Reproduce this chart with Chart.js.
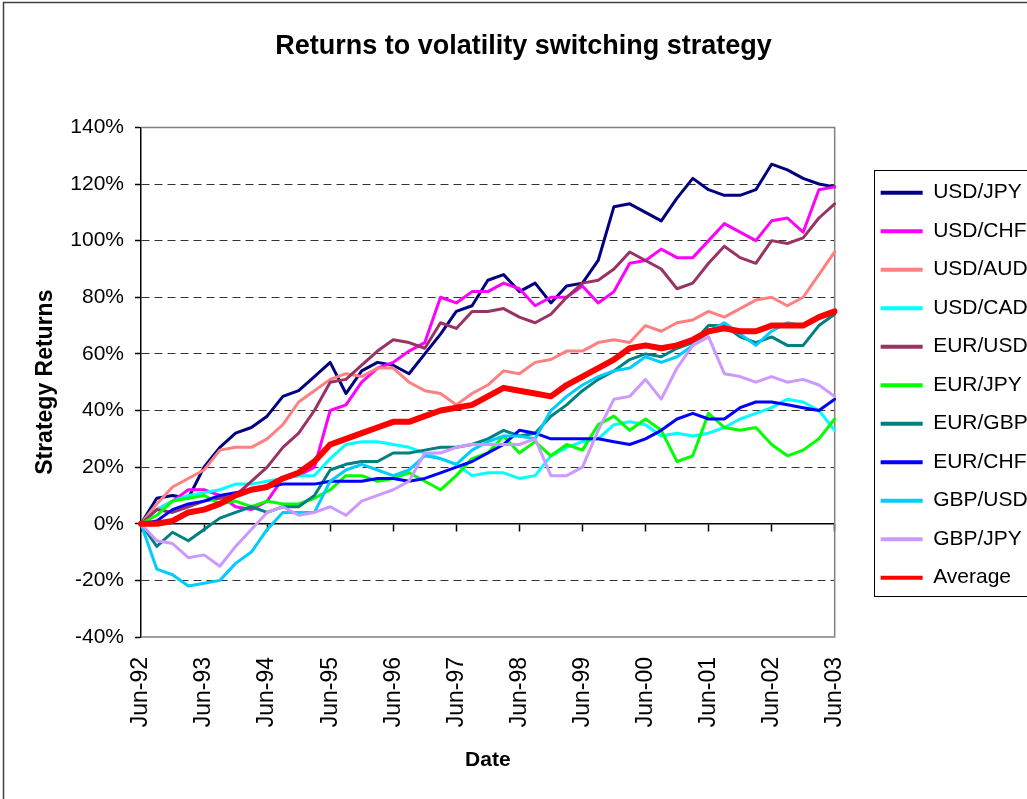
<!DOCTYPE html>
<html>
<head>
<meta charset="utf-8">
<title>Returns to volatility switching strategy</title>
<script src="https://cdn.jsdelivr.net/npm/chart.js@4.4.0/dist/chart.umd.min.js"></script>
<style>
  html, body { margin: 0; padding: 0; background: #fff; overflow: hidden; }
  #wrap { position: relative; width: 1033px; height: 799px; }
</style>
</head>
<body>
<div id="wrap"><canvas id="chart"></canvas></div>
<script>
// quarterly points, Jun-92 .. Jun-03
const categories = [
  'Jun-92','Sep-92','Dec-92','Mar-93','Jun-93','Sep-93','Dec-93','Mar-94',
  'Jun-94','Sep-94','Dec-94','Mar-95','Jun-95','Sep-95','Dec-95','Mar-96',
  'Jun-96','Sep-96','Dec-96','Mar-97','Jun-97','Sep-97','Dec-97','Mar-98',
  'Jun-98','Sep-98','Dec-98','Mar-99','Jun-99','Sep-99','Dec-99','Mar-00',
  'Jun-00','Sep-00','Dec-00','Mar-01','Jun-01','Sep-01','Dec-01','Mar-02',
  'Jun-02','Sep-02','Dec-02','Mar-03','Jun-03'
];

// strategy returns in %
const usdJpy = [0, 9, 10, 9, 20, 27, 32, 34, 38, 45, 47, 52, 57, 46, 54, 57, 56, 53, 60, 67, 75, 77, 86, 88, 82, 85, 78, 84, 85, 93, 112, 113, 110, 107, 115, 122, 118, 116, 116, 118, 127, 125, 122, 120, 119];
const usdChf = [0, 5, 8, 12, 12, 10, 6, 5, 8, 16, 17, 20, 40, 42, 50, 55, 57, 61, 64, 80, 78, 82, 82, 85, 83, 77, 80, 80, 84, 78, 82, 92, 93, 97, 94, 94, 100, 106, 103, 100, 107, 108, 103, 118, 119];
const usdAud = [0, 7, 13, 16, 19, 26, 27, 27, 30, 35, 43, 47, 51, 53, 52, 55, 55, 50, 47, 46, 42, 46, 49, 54, 53, 57, 58, 61, 61, 64, 65, 64, 70, 68, 71, 72, 75, 73, 76, 79, 80, 77, 80, 88, 96];
const usdCad = [0, 5, 8, 10, 11, 12, 14, 14, 15, 16, 17, 17, 23, 28, 29, 29, 28, 27, 25, 23, 21, 17, 18, 18, 16, 17, 24, 27, 29, 30, 35, 36, 35, 31, 32, 31, 32, 34, 37, 39, 41, 44, 43, 40, 33];
const eurUsd = [0, 5, 4, 6, 8, 9, 10, 15, 20, 27, 32, 40, 50, 51, 56, 61, 65, 64, 62, 71, 69, 75, 75, 76, 73, 71, 74, 80, 85, 86, 90, 96, 93, 90, 83, 85, 92, 98, 94, 92, 100, 99, 101, 108, 113];
const eurJpy = [0, 3, 8, 9, 10, 7, 8, 6, 8, 7, 7, 9, 12, 17, 17, 15, 16, 18, 15, 12, 17, 23, 25, 31, 25, 29, 24, 28, 26, 35, 38, 33, 37, 33, 22, 24, 39, 34, 33, 34, 28, 24, 26, 30, 37];
const eurGbp = [0, -8, -3, -6, -2, 2, 4, 6, 4, 6, 6, 10, 19, 21, 22, 22, 25, 25, 26, 27, 27, 28, 30, 33, 31, 32, 38, 42, 47, 51, 54, 58, 60, 59, 62, 64, 70, 70, 66, 64, 66, 63, 63, 70, 74];
const eurChf = [0, 1, 5, 7, 8, 10, 11, 12, 13, 14, 14, 14, 15, 15, 15, 16, 16, 15, 16, 18, 20, 22, 25, 28, 33, 32, 30, 30, 30, 30, 29, 28, 30, 33, 37, 39, 37, 37, 41, 43, 43, 42, 41, 40, 44];
const gbpUsd = [0, -16, -18, -22, -21, -20, -14, -10, -2, 4, 4, 4, 15, 19, 21, 19, 17, 19, 24, 23, 21, 26, 29, 31, 31, 30, 40, 45, 49, 52, 54, 55, 59, 57, 59, 63, 68, 71, 67, 63, 68, 71, 70, 73, 75];
const gbpJpy = [0, -6, -7, -12, -11, -15, -8, -2, 4, 6, 3, 4, 6, 3, 8, 10, 12, 15, 25, 25, 27, 28, 28, 28, 28, 30, 17, 17, 20, 33, 44, 45, 51, 44, 55, 63, 66, 53, 52, 50, 52, 50, 51, 49, 45];
const average = [0, 0, 1, 4, 5, 7, 10, 12, 13, 16, 18, 22, 28, 30, 32, 34, 36, 36, 38, 40, 41, 42, 45, 48, 47, 46, 45, 49, 52, 55, 58, 62, 63, 62, 63, 65, 68, 69, 68, 68, 70, 70, 70, 73, 75];

const seriesNames = ['USD/JPY', 'USD/CHF', 'USD/AUD', 'USD/CAD', 'EUR/USD', 'EUR/JPY', 'EUR/GBP', 'EUR/CHF', 'GBP/USD', 'GBP/JPY', 'Average'];
const seriesData = [usdJpy, usdChf, usdAud, usdCad, eurUsd, eurJpy, eurGbp, eurChf, gbpUsd, gbpJpy, average];
const seriesColors = ['#000080', '#FF00FF', '#FF8080', '#00FFFF', '#993366', '#00FF00', '#008080', '#0000FF', '#00CCFF', '#CC99FF', '#FF0000'];

const isJune = i => categories[i] && categories[i].startsWith('Jun');

Chart.defaults.font.family = 'Arial, "Liberation Sans", sans-serif';
Chart.defaults.color = '#000';

// white page, outer frame, plot border, legend border
const framePlugin = {
  id: 'frame',
  beforeDraw(chart) {
    const ctx = chart.ctx;
    ctx.save();
    ctx.fillStyle = '#fff';
    ctx.fillRect(0, 0, chart.width, chart.height);
    ctx.strokeStyle = '#404040';
    ctx.lineWidth = 1.5;
    ctx.beginPath();
    ctx.moveTo(3.5, chart.height + 5);
    ctx.lineTo(3.5, 2.5);
    ctx.lineTo(chart.width + 5, 2.5);
    ctx.stroke();
    ctx.restore();
  },
  beforeDatasetsDraw(chart) {
    const {ctx, chartArea: a} = chart;
    ctx.save();
    ctx.strokeStyle = '#808080';
    ctx.lineWidth = 1.5;
    ctx.beginPath();
    ctx.moveTo(a.left, a.top);
    ctx.lineTo(a.right, a.top);
    ctx.lineTo(a.right, a.bottom);
    ctx.lineTo(a.left, a.bottom);
    ctx.stroke();
    ctx.restore();
  },
  afterDraw(chart) {
    const hb = chart.legend && chart.legend.legendHitBoxes;
    if (!hb || !hb.length) return;
    const ctx = chart.ctx;
    const first = hb[0], last = hb[hb.length - 1];
    const left = Math.round(first.left - 7) + 0.5;
    const top = Math.round(first.top + first.height / 2 - 23) + 0.5;
    const bottom = Math.round(last.top + last.height / 2 + 18) + 0.5;
    ctx.save();
    ctx.strokeStyle = '#000';
    ctx.lineWidth = 1;
    ctx.strokeRect(left, top, chart.width, bottom - top);
    ctx.restore();
  }
};

new Chart(document.getElementById('chart'), {
  type: 'line',
  data: {
    labels: categories,
    datasets: seriesNames.map((name, i) => ({
      label: name,
      data: seriesData[i],
      borderColor: seriesColors[i],
      backgroundColor: seriesColors[i],
      borderWidth: name === 'Average' ? 6 : 3,
      pointRadius: 0,
      tension: 0,
      borderJoinStyle: 'round',
      borderCapStyle: 'round',
      order: seriesNames.length - i
    }))
  },
  options: {
    responsive: true,
    maintainAspectRatio: false,
    devicePixelRatio: 1,
    animation: false,
    layout: { padding: { left: 14, right: 0, top: 0, bottom: 0 } },
    plugins: {
      title: {
        display: true,
        text: 'Returns to volatility switching strategy',
        color: '#000',
        font: { size: 27, weight: 'bold' },
        padding: { top: 30, bottom: 65 }
      },
      legend: {
        position: 'right',
        fullSize: false,
        align: 'center',
        title: { display: true, text: ' ', padding: 0, font: { size: 5 } },
        labels: {
          color: '#000',
          font: { size: 21 },
          boxWidth: 42,
          boxHeight: 4,
          padding: 17.5,
          generateLabels: chart => chart.data.datasets.map((d, i) => ({
            text: d.label,
            fillStyle: d.borderColor,
            strokeStyle: d.borderColor,
            lineWidth: 0,
            hidden: false,
            datasetIndex: i,
            fontColor: '#000'
          }))
        }
      },
      tooltip: { enabled: false }
    },
    scales: {
      x: {
        type: 'category',
        position: 'bottom',
        grid: { display: false, drawTicks: false },
        border: { display: false },
        ticks: {
          autoSkip: false,
          minRotation: 90,
          maxRotation: 90,
          padding: 20,
          color: '#000',
          font: { size: 23 },
          callback: (v, i) => isJune(i) ? categories[i] : ''
        },
        title: {
          display: true,
          text: 'Date',
          color: '#000',
          font: { size: 21, weight: 'bold' },
          padding: { top: 0, bottom: 26 }
        },
        afterFit: s => { s.height = 162; }
      },
      x0: {
        type: 'category',
        axis: 'x',
        position: { y: 0 },
        ticks: { display: false },
        grid: {
          drawOnChartArea: false,
          drawTicks: true,
          tickLength: 7,
          tickWidth: 1.5,
          tickColor: c => isJune(c.index) ? '#000' : 'rgba(0,0,0,0)'
        },
        border: { display: true, color: '#000', width: 1.5 }
      },
      y: {
        min: -40,
        max: 140,
        ticks: {
          stepSize: 20,
          padding: 11,
          color: '#000',
          font: { size: 21 },
          callback: v => v + '%'
        },
        grid: {
          color: c => [0, 140, -40].includes(c.tick.value) ? 'rgba(0,0,0,0)' : '#333',
          lineWidth: 1,
          tickLength: 6,
          tickWidth: 1.5,
          tickColor: '#000',
          tickBorderDash: []
        },
        border: { display: true, color: '#000', width: 1.5, dash: [8, 5] },
        title: {
          display: true,
          text: 'Strategy Returns',
          color: '#000',
          font: { size: 23, weight: 'bold' },
          padding: { top: 18, bottom: 0 }
        },
        afterFit: s => { s.width = 127; }
      },
      gap: {
        type: 'linear',
        axis: 'y',
        position: 'right',
        ticks: { display: false },
        grid: { display: false, drawTicks: false },
        border: { display: false },
        afterFit: s => { s.width = 28.5; }
      }
    }
  },
  plugins: [framePlugin]
});
</script>
</body>
</html>
